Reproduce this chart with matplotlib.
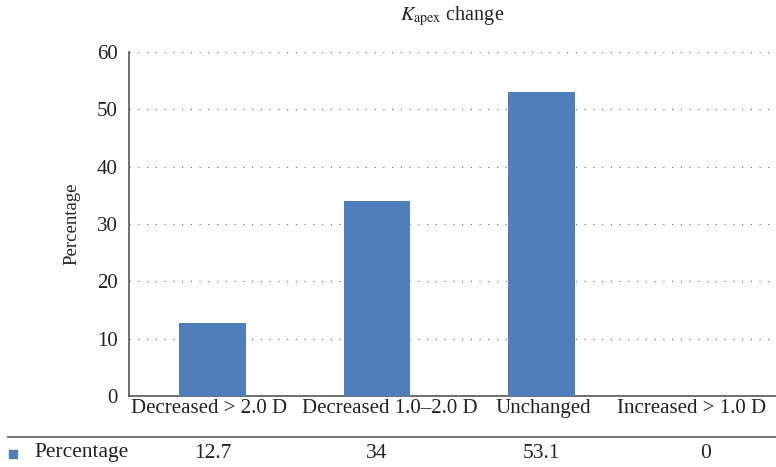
import matplotlib.pyplot as plt
import matplotlib.transforms as mtransforms
from matplotlib.lines import Line2D

categories = ['Decreased > 2.0 D', 'Decreased 1.0\u20132.0 D', 'Unchanged', 'Increased > 1.0 D']
values = [12.7, 34, 53.1, 0]
value_labels = ['12.7', '34', '53.1', '0']
series_name = 'Percentage'

plt.rcParams['font.family'] = ['Liberation Serif', 'DejaVu Serif']
plt.rcParams['mathtext.fontset'] = 'stix'

bar_color = '#4F7EBA'
txt = '#222222'
W, H = 776, 467
fig = plt.figure(figsize=(W / 100, H / 100), dpi=100)
# axes box in pixels: left 129, right 776, bottom (y=0) at 396, top (y=60) at 52
ax = fig.add_axes([129 / W, 1 - 396 / H, (776 - 129) / W, (396 - 52) / H])

x = list(range(len(categories)))
ax.bar(x, values, width=0.407, color=bar_color, zorder=3)

ax.set_xlim(-0.508, 3.426)
ax.set_ylim(0, 60)
ax.set_yticks(range(0, 61, 10))
ax.set_xticks(x)
ax.set_xticklabels(categories, fontsize=15, color=txt)
ax.tick_params(axis='y', labelsize=15, length=0, pad=8, colors=txt)
ax.tick_params(axis='x', length=0, pad=2, colors=txt)

# nudge labels the way the original layout spread them
shifts = [-3, 13, 2, -14]
for lab, dx in zip(ax.get_xticklabels(), shifts):
    lab.set_transform(lab.get_transform() + mtransforms.ScaledTranslation(dx / 100, 0, fig.dpi_scale_trans))

ax.yaxis.grid(True, linestyle=(0, (1, 6)), color='#777777', linewidth=0.9, zorder=0)
for s in ['top', 'right']:
    ax.spines[s].set_visible(False)
for s in ['left', 'bottom']:
    ax.spines[s].set_color('#555555')
    ax.spines[s].set_linewidth(1.2)

ax.set_ylabel('Percentage', fontsize=13.5, labelpad=12, color=txt)
fig.text(452 / W, 1 - 16 / H, r'$K_{\mathrm{apex}}$ change', ha='center', va='center',
         fontsize=14.5, color=txt)

# data table row under the chart
fig.add_artist(Line2D([8 / W, 1], [1 - 437 / H] * 2, color='#777777', linewidth=1.5))
trans = mtransforms.blended_transform_factory(ax.transData, fig.transFigure)
for xi, lab in zip(x, value_labels):
    ax.text(xi, 1 - 454 / H, lab, transform=trans, ha='center', va='center',
            fontsize=15.5, color=txt, clip_on=False)
fig.patches.append(plt.Rectangle((9 / W, 1 - 458 / H), 8 / W, 8 / H, color=bar_color,
                                 transform=fig.transFigure, figure=fig))
fig.text(34 / W, 1 - 453 / H, series_name, ha='left', va='center', fontsize=15.5, color=txt)

fig.savefig('out.png', dpi=100)
